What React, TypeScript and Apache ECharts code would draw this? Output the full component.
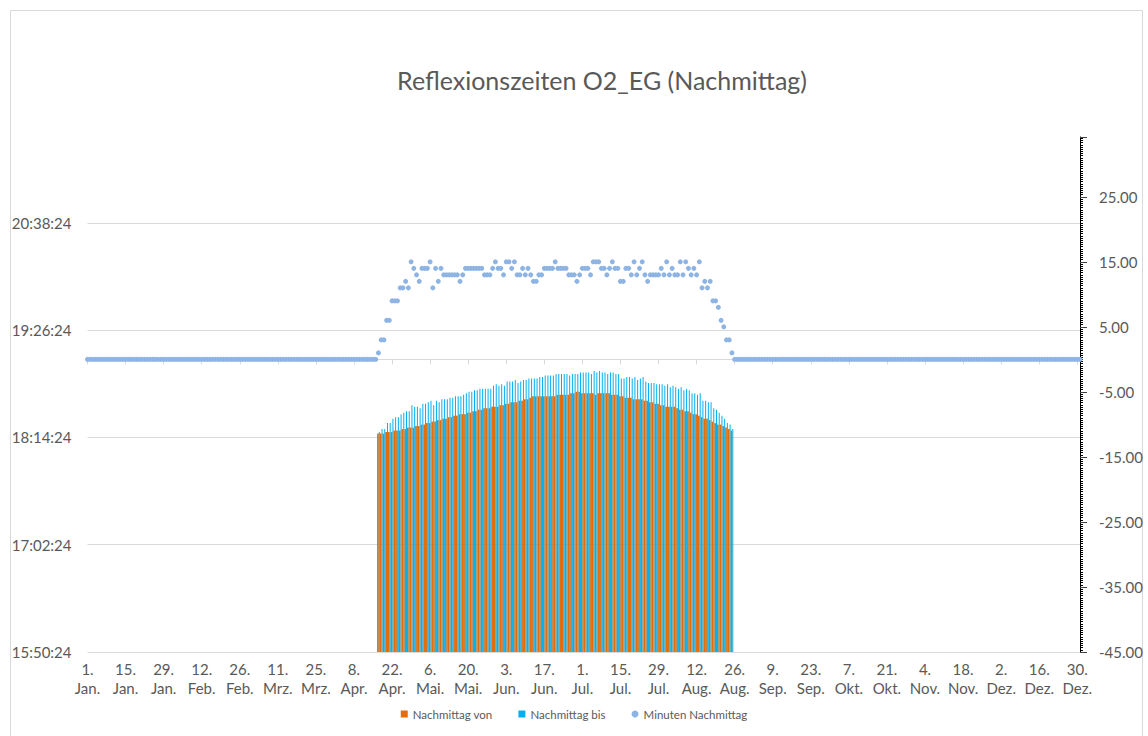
import { useEffect, useRef } from "react";
import * as echarts from "echarts";

// ---- data ----
const YEAR = 2024; // leap year: 1. Jan. ... 31. Dez. (366 days)
const MONTHS = ["Jan.", "Feb.", "Mrz.", "Apr.", "Mai.", "Jun.", "Jul.", "Aug.", "Sep.", "Okt.", "Nov.", "Dez."];
const TITLE = "Reflexionszeiten O2_EG (Nachmittag)";
const SERIES_NAMES = ["Nachmittag von", "Nachmittag bis", "Minuten Nachmittag"];

// first day with reflection: 17. Apr. (values below run day by day up to 25. Aug.)
const FIRST_MONTH = 4;
const FIRST_DAY = 17;

// start of reflection ("Nachmittag von")
const vonTimes = [
  "18:17", "18:17", "18:17", "18:18", "18:18", "18:18", "18:19", "18:19", "18:19", "18:20",
  "18:20", "18:21", "18:21", "18:21", "18:22", "18:22", "18:23", "18:23", "18:24", "18:24",
  "18:25", "18:25", "18:26", "18:26", "18:27", "18:27", "18:28", "18:28", "18:29", "18:29",
  "18:30", "18:30", "18:30", "18:31", "18:31", "18:32", "18:32", "18:33", "18:33", "18:34",
  "18:34", "18:34", "18:35", "18:35", "18:35", "18:36", "18:36", "18:37", "18:37", "18:38",
  "18:38", "18:38", "18:39", "18:39", "18:40", "18:40", "18:41", "18:42", "18:42", "18:42",
  "18:42", "18:42", "18:42", "18:42", "18:42", "18:42", "18:43", "18:43", "18:43", "18:43",
  "18:43", "18:44", "18:44", "18:45", "18:45", "18:44", "18:44", "18:44", "18:44", "18:44",
  "18:43", "18:44", "18:44", "18:44", "18:44", "18:44", "18:43", "18:43", "18:43", "18:42",
  "18:42", "18:41", "18:41", "18:41", "18:40", "18:40", "18:40", "18:40", "18:39", "18:39",
  "18:38", "18:38", "18:37", "18:37", "18:36", "18:36", "18:35", "18:35", "18:35", "18:35",
  "18:34", "18:33", "18:33", "18:32", "18:32", "18:31", "18:30", "18:30", "18:29", "18:28",
  "18:27", "18:27", "18:26", "18:25", "18:24", "18:23", "18:23", "18:22", "18:21", "18:20",
  "18:19",
];

// end of reflection ("Nachmittag bis")
const bisTimes = [
  "18:18", "18:20", "18:20", "18:24", "18:24", "18:27", "18:28", "18:28", "18:30", "18:31",
  "18:32", "18:32", "18:36", "18:35", "18:35", "18:34", "18:37", "18:37", "18:38", "18:39",
  "18:36", "18:39", "18:38", "18:40", "18:40", "18:40", "18:41", "18:41", "18:42", "18:42",
  "18:42", "18:43", "18:44", "18:45", "18:45", "18:46", "18:46", "18:47", "18:47", "18:47",
  "18:47", "18:47", "18:49", "18:50", "18:49", "18:50", "18:49", "18:52", "18:52", "18:52",
  "18:53", "18:51", "18:52", "18:53", "18:53", "18:54", "18:54", "18:54", "18:54", "18:55",
  "18:55", "18:56", "18:56", "18:56", "18:56", "18:57", "18:57", "18:57", "18:57", "18:57",
  "18:56", "18:57", "18:57", "18:57", "18:58", "18:58", "18:58", "18:58", "18:57", "18:59",
  "18:58", "18:59", "18:58", "18:58", "18:57", "18:58", "18:58", "18:57", "18:57", "18:54",
  "18:54", "18:55", "18:55", "18:54", "18:55", "18:53", "18:54", "18:55", "18:52", "18:51",
  "18:51", "18:51", "18:50", "18:50", "18:50", "18:49", "18:50", "18:48", "18:49", "18:48",
  "18:47", "18:48", "18:46", "18:47", "18:46", "18:44", "18:44", "18:43", "18:44", "18:39",
  "18:39", "18:38", "18:38", "18:34", "18:33", "18:31", "18:29", "18:27", "18:24", "18:23",
  "18:20",
];

// duration in minutes ("Minuten Nachmittag"); 0 on every other day of the year
const activeMinutes = [
  1, 3, 3, 6, 6, 9, 9, 9, 11, 11,
  12, 11, 15, 14, 13, 12, 14, 14, 14, 15,
  11, 14, 12, 14, 13, 13, 13, 13, 13, 13,
  12, 13, 14, 14, 14, 14, 14, 14, 14, 13,
  13, 13, 14, 15, 14, 14, 13, 15, 15, 14,
  15, 13, 13, 14, 13, 14, 13, 12, 12, 13,
  13, 14, 14, 14, 14, 15, 14, 14, 14, 14,
  13, 13, 13, 12, 13, 14, 14, 14, 13, 15,
  15, 15, 14, 14, 13, 14, 15, 14, 14, 12,
  12, 14, 14, 13, 15, 13, 14, 15, 13, 12,
  13, 13, 13, 13, 14, 13, 15, 13, 14, 13,
  13, 15, 13, 15, 14, 13, 14, 13, 15, 11,
  12, 11, 12, 9, 9, 8, 6, 5, 3, 3,
  1,
];
const INACTIVE_MINUTES = 0;

// axes
const LEFT_MIN = "15:50:24";
const LEFT_MAX = "21:36:00";
const LEFT_STEP = "01:12:00";
const RIGHT_MIN = -45;
const RIGHT_MAX = 34.2;
const RIGHT_STEP = 10;
const LABEL_EVERY_DAYS = 14;

// ---- helpers ----
const toSec = (t: string) => {
  const p = t.split(":").map(Number);
  return p[0] * 3600 + p[1] * 60 + (p[2] || 0);
};
const pad = (n: number) => String(n).padStart(2, "0");
const fmtTime = (sec: number) => {
  const s = Math.round(sec);
  return `${pad(Math.floor(s / 3600))}:${pad(Math.floor((s % 3600) / 60))}:${pad(s % 60)}`;
};

const categories: string[] = [];
let firstIndex = 0;
{
  const start = Date.UTC(YEAR, 0, 1);
  const end = Date.UTC(YEAR + 1, 0, 1);
  for (let t = start, i = 0; t < end; t += 86400000, i++) {
    const d = new Date(t);
    if (d.getUTCMonth() + 1 === FIRST_MONTH && d.getUTCDate() === FIRST_DAY) firstIndex = i;
    categories.push(`${d.getUTCDate()}.\n${MONTHS[d.getUTCMonth()]}`);
  }
}

const vonData = categories.map((_, i) => {
  const k = i - firstIndex;
  return k >= 0 && k < vonTimes.length ? toSec(vonTimes[k]) : null;
});
const bisData = categories.map((_, i) => {
  const k = i - firstIndex;
  return k >= 0 && k < bisTimes.length ? toSec(bisTimes[k]) : null;
});
const minutesData = categories.map((_, i) => {
  const k = i - firstIndex;
  return k >= 0 && k < activeMinutes.length ? activeMinutes[k] : INACTIVE_MINUTES;
});

const FONT = "Lato, 'Noto Sans', sans-serif";
const TEXT = "#595959";
const GRID = "#D9D9D9";

export default function App() {
  const ref = useRef<HTMLDivElement>(null);
  useEffect(() => {
    document.body.style.margin = "0";
    const chart = echarts.init(ref.current!, null, { renderer: "svg" });
    chart.setOption({
      animation: false,
      backgroundColor: "#ffffff",
      textStyle: { fontFamily: FONT, color: TEXT },
      graphic: [
        {
          type: "rect",
          silent: true,
          shape: { x: 10.5, y: 10.5, width: 1132, height: 760 },
          style: { fill: "none", stroke: "#D9D9D9", lineWidth: 1 },
        },
        {
          type: "text",
          x: 602,
          y: 80,
          style: {
            text: TITLE,
            fontFamily: FONT,
            fontSize: 25,
            fill: TEXT,
            textAlign: "center",
            textVerticalAlign: "middle",
          },
        },
      ],
      grid: { left: 87.5, right: 68, top: 137, bottom: 84, containLabel: false },
      legend: {
        bottom: 11,
        left: "center",
        itemWidth: 7,
        itemHeight: 7,
        itemGap: 26,
        textStyle: { fontFamily: FONT, fontSize: 11.5, color: TEXT },
        data: [
          { name: SERIES_NAMES[0], icon: "rect" },
          { name: SERIES_NAMES[1], icon: "rect" },
          { name: SERIES_NAMES[2], icon: "circle" },
        ],
      },
      xAxis: {
        type: "category",
        data: categories,
        boundaryGap: false,
        axisLine: { lineStyle: { color: GRID } },
        axisTick: { show: true, interval: LABEL_EVERY_DAYS - 1, length: 5, lineStyle: { color: GRID } },
        axisLabel: {
          interval: LABEL_EVERY_DAYS - 1,
          fontFamily: FONT,
          fontSize: 15,
          lineHeight: 19,
          color: TEXT,
          margin: 7,
        },
        splitLine: { show: false },
      },
      yAxis: [
        {
          type: "value",
          min: toSec(LEFT_MIN),
          max: toSec(LEFT_MAX),
          interval: toSec(LEFT_STEP),
          axisLine: { show: false },
          axisTick: { show: false },
          axisLabel: {
            formatter: (v: number) => fmtTime(v),
            showMaxLabel: false,
            fontFamily: FONT,
            fontSize: 15,
            color: TEXT,
            margin: 16,
          },
          splitLine: { show: true, showMaxLine: false, lineStyle: { color: GRID } },
        },
        {
          type: "value",
          position: "right",
          min: RIGHT_MIN,
          max: RIGHT_MAX,
          interval: RIGHT_STEP,
          axisLine: { show: true, lineStyle: { color: "#000000", width: 1 } },
          axisTick: { show: true, length: 7, lineStyle: { color: "#404040" } },
          minorTick: { show: true, splitNumber: 30, length: 3, lineStyle: { color: "#000000" } },
          axisLabel: {
            formatter: (v: number) => v.toFixed(2),
            showMaxLabel: false,
            fontFamily: FONT,
            fontSize: 15,
            color: TEXT,
            margin: 19,
          },
          splitLine: { show: false },
        },
        {
          // inner half of the cross-type minor ticks on the right axis
          type: "value",
          position: "right",
          min: RIGHT_MIN,
          max: RIGHT_MAX,
          interval: RIGHT_STEP,
          axisLine: { show: false },
          axisTick: { show: false },
          minorTick: { show: true, splitNumber: 30, length: 3, inside: true, lineStyle: { color: "#000000" } },
          axisLabel: { show: false },
          splitLine: { show: false },
        },
      ],
      series: [
        {
          name: SERIES_NAMES[0],
          type: "bar",
          yAxisIndex: 0,
          data: vonData,
          barWidth: "64%",
          barGap: "0%",
          itemStyle: { color: "#E46C0A" },
        },
        {
          name: SERIES_NAMES[1],
          type: "bar",
          yAxisIndex: 0,
          data: bisData,
          barWidth: "36%",
          barGap: "0%",
          itemStyle: { color: "#00B0F0" },
        },
        {
          name: SERIES_NAMES[2],
          type: "scatter",
          yAxisIndex: 1,
          data: minutesData,
          symbolSize: 5,
          itemStyle: { color: "#8EB4E3", opacity: 1 },
        },
      ],
    });
    return () => chart.dispose();
  }, []);
  return <div ref={ref} style={{ width: 1148, height: 736 }} />;
}
